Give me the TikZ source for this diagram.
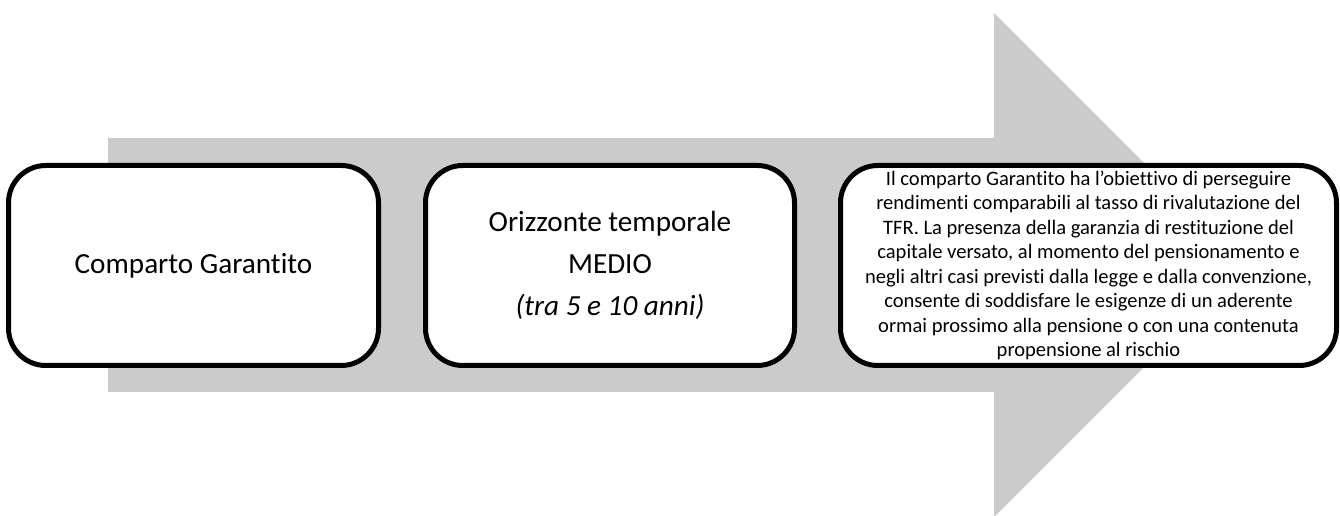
\documentclass[tikz,border=0pt]{standalone}
\usepackage{fontspec}
\setmainfont[Ligatures={NoCommon,NoContextual}]{Carlito}
\definecolor{arrowgrey}{HTML}{CBCBCB}
\begin{document}
\begin{tikzpicture}[x=0.75pt,y=-0.75pt,
  box/.style={draw=black, line width=3.75pt, fill=white, rounded corners=28pt,
    align=center, inner sep=0pt, minimum height=150pt},
  bigtext/.style={font=\fontsize{21.9pt}{31.5pt}\selectfont},
  smalltext/.style={font=\fontsize{15.4pt}{18.4pt}\selectfont}]
\useasboundingbox (0,0) rectangle (1340,516);
\fill[arrowgrey] (108,138) -- (994,138) -- (994,13) -- (1246,265) -- (994,517)
  -- (994,392) -- (108,392) -- cycle;
\node[box, bigtext, minimum width=277.5pt] (b1) at (193.5,265.5) {Comparto Garantito};
\node[box, bigtext, minimum width=276.75pt] (b2) at (610,265.5)
  {Orizzonte temporale\\MEDIO\\\textit{(tra 5 e 10 anni)}};
\node[box, smalltext, minimum width=372pt] (b3) at (1088.5,265.5)
  {Il comparto Garantito ha l’obiettivo di perseguire\\
   rendimenti comparabili al tasso di rivalutazione del\\
   TFR. La presenza della garanzia di restituzione del\\
   capitale versato, al momento del pensionamento e\\
   negli altri casi previsti dalla legge e dalla convenzione,\\
   consente di soddisfare le esigenze di un aderente\\
   ormai prossimo alla pensione o con una contenuta\\
   propensione al rischio};
\end{tikzpicture}
\end{document}
